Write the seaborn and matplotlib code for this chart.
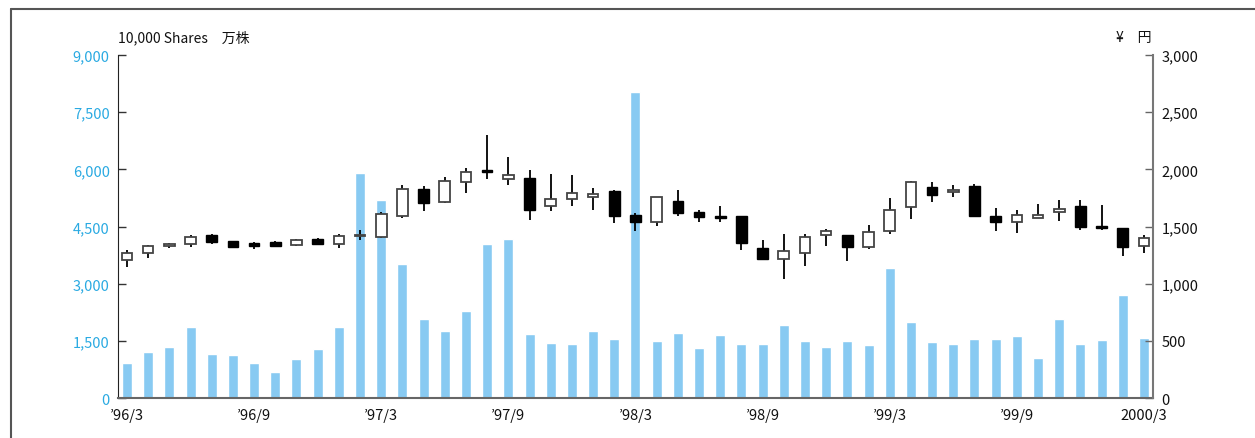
import matplotlib
matplotlib.use("Agg")
import matplotlib.pyplot as plt
from matplotlib.lines import Line2D
from matplotlib.ticker import FuncFormatter
import numpy as np
import seaborn as sns

# monthly data, '96/3 .. 2000/3
months = list(range(49))
volume = [
    920, 1210, 1340, 1870, 1155, 1130, 920, 680, 1025, 1290,
    1870, 5900, 5190, 3510, 2080, 1765, 2290, 4040, 4170, 1685,
    1445, 1420, 1765, 1550, 8040, 1500, 1710, 1315, 1660, 1420,
    1420, 1920, 1500, 1340, 1500, 1395, 3410, 2000, 1475, 1420,
    1550, 1550, 1630, 1050, 2080, 1420, 1525, 2715, 1575,
]
price_open = [
    1207, 1265, 1326, 1344, 1423, 1370, 1353, 1361, 1335, 1388,
    1344, 1418, 1405, 1589, 1831, 1717, 1886, 1994, 1915, 1921,
    1676, 1738, 1755, 1813, 1601, 1536, 1726, 1624, 1589, 1595,
    1309, 1213, 1271, 1426, 1423, 1321, 1461, 1668, 1848, 1799,
    1851, 1595, 1536, 1571, 1624, 1679, 1501, 1490, 1329,
]
price_close = [
    1268, 1329, 1350, 1411, 1364, 1324, 1332, 1332, 1385, 1344,
    1420, 1425, 1606, 1831, 1708, 1898, 1980, 1977, 1950, 1647,
    1740, 1790, 1781, 1595, 1536, 1755, 1615, 1583, 1577, 1356,
    1213, 1283, 1411, 1461, 1321, 1449, 1647, 1886, 1773, 1822,
    1589, 1536, 1598, 1598, 1650, 1493, 1484, 1324, 1402,
]
price_high = [
    1294, 1335, 1356, 1426, 1431, 1376, 1367, 1373, 1391, 1396,
    1434, 1469, 1630, 1866, 1857, 1930, 2012, 2300, 2108, 1994,
    1959, 1950, 1837, 1820, 1615, 1755, 1819, 1644, 1679, 1595,
    1382, 1434, 1431, 1478, 1428, 1510, 1746, 1895, 1886, 1860,
    1872, 1659, 1641, 1694, 1729, 1729, 1688, 1490, 1423,
]
price_low = [
    1143, 1222, 1309, 1324, 1347, 1315, 1306, 1326, 1332, 1338,
    1315, 1385, 1400, 1574, 1638, 1708, 1790, 1918, 1866, 1560,
    1638, 1682, 1647, 1528, 1463, 1507, 1595, 1542, 1542, 1297,
    1213, 1044, 1157, 1332, 1201, 1300, 1431, 1568, 1711, 1761,
    1585, 1463, 1446, 1571, 1551, 1472, 1472, 1245, 1271,
]
tick_pos = [0, 6, 12, 18, 24, 30, 36, 42, 48]
tick_labels = ["\u201996/3", "\u201996/9", "\u201997/3", "\u201997/9", "\u201998/3",
               "\u201998/9", "\u201999/3", "\u201999/9", "2000/3"]

BAR_BLUE = "#88caf2"
TICK_BLUE = "#2aaae2"

sns.set_style("white")
plt.rcParams["font.family"] = ["Noto Sans CJK JP", "DejaVu Sans"]

fig = plt.figure(figsize=(12.55, 4.39), dpi=100)
ax = fig.add_axes([0.094, 0.0911, 0.8247, 0.7813])

sns.barplot(x=months, y=volume, color=BAR_BLUE, width=0.47, saturation=1,
            ax=ax, zorder=1)
ax.set_xlim(-0.425, 48.425)
ax.set_ylim(0, 9000)
ax.set_yticks([0, 1500, 3000, 4500, 6000, 7500, 9000])
ax.yaxis.set_major_formatter(FuncFormatter(lambda v, p: f"{int(v):,}"))
ax.set_xticks(tick_pos)
ax.set_xticklabels(tick_labels)
ax.set_xlabel("")
ax.set_ylabel("")
ax.tick_params(axis="y", direction="in", length=6, width=1, colors="#333333",
               labelcolor=TICK_BLUE, labelsize=10.5, pad=6)
ax.tick_params(axis="x", length=0, labelsize=10.5, labelcolor="#111111", pad=7)

# price axis with candlesticks
ax2 = ax.twinx()
ax2.set_ylim(0, 3000)
ax2.set_yticks([0, 500, 1000, 1500, 2000, 2500, 3000])
ax2.yaxis.set_major_formatter(FuncFormatter(lambda v, p: f"{int(v):,}"))
ax2.tick_params(axis="y", direction="in", length=6, width=1, colors="#666666",
                labelcolor="#111111", labelsize=10.5, pad=6)

o = np.array(price_open)
c = np.array(price_close)
up = c >= o
ax2.vlines(months, price_low, price_high, color="black", linewidth=1.3, zorder=3)
body_lo = np.minimum(o, c)
body_h = np.maximum(np.abs(c - o), 6)
ax2.bar(np.array(months)[up], body_h[up], bottom=body_lo[up], width=0.5,
        color="white", edgecolor="#444444", linewidth=1.3, zorder=4)
ax2.bar(np.array(months)[~up], body_h[~up], bottom=body_lo[~up], width=0.5,
        color="black", edgecolor="black", linewidth=1.0, zorder=4)

for a in (ax, ax2):
    a.spines["top"].set_visible(False)
ax.spines["left"].set_color("#222222")
ax.spines["bottom"].set_color("#666666")
ax.spines["bottom"].set_linewidth(1.5)
ax2.spines["right"].set_color("#777777")
ax2.spines["right"].set_linewidth(1.5)
ax2.spines["left"].set_visible(False)
ax2.spines["bottom"].set_visible(False)
ax.spines["right"].set_visible(False)

fig.text(118 / 1255, 1 - 38 / 439, "10,000 Shares\u3000万株", fontsize=10,
         ha="left", va="center", color="#111111")
fig.text(1152 / 1255, 1 - 38 / 439, "\u00a5\u3000円", fontsize=10,
         ha="right", va="center", color="#111111")

# outer frame (top and left)
fig.add_artist(Line2D([11 / 1255, 1.0], [1 - 10 / 439, 1 - 10 / 439],
                      transform=fig.transFigure, color="#555555", linewidth=1.5))
fig.add_artist(Line2D([11 / 1255, 11 / 1255], [0, 1 - 10 / 439],
                      transform=fig.transFigure, color="#555555", linewidth=1.5))

fig.savefig("out.png", dpi=100)
